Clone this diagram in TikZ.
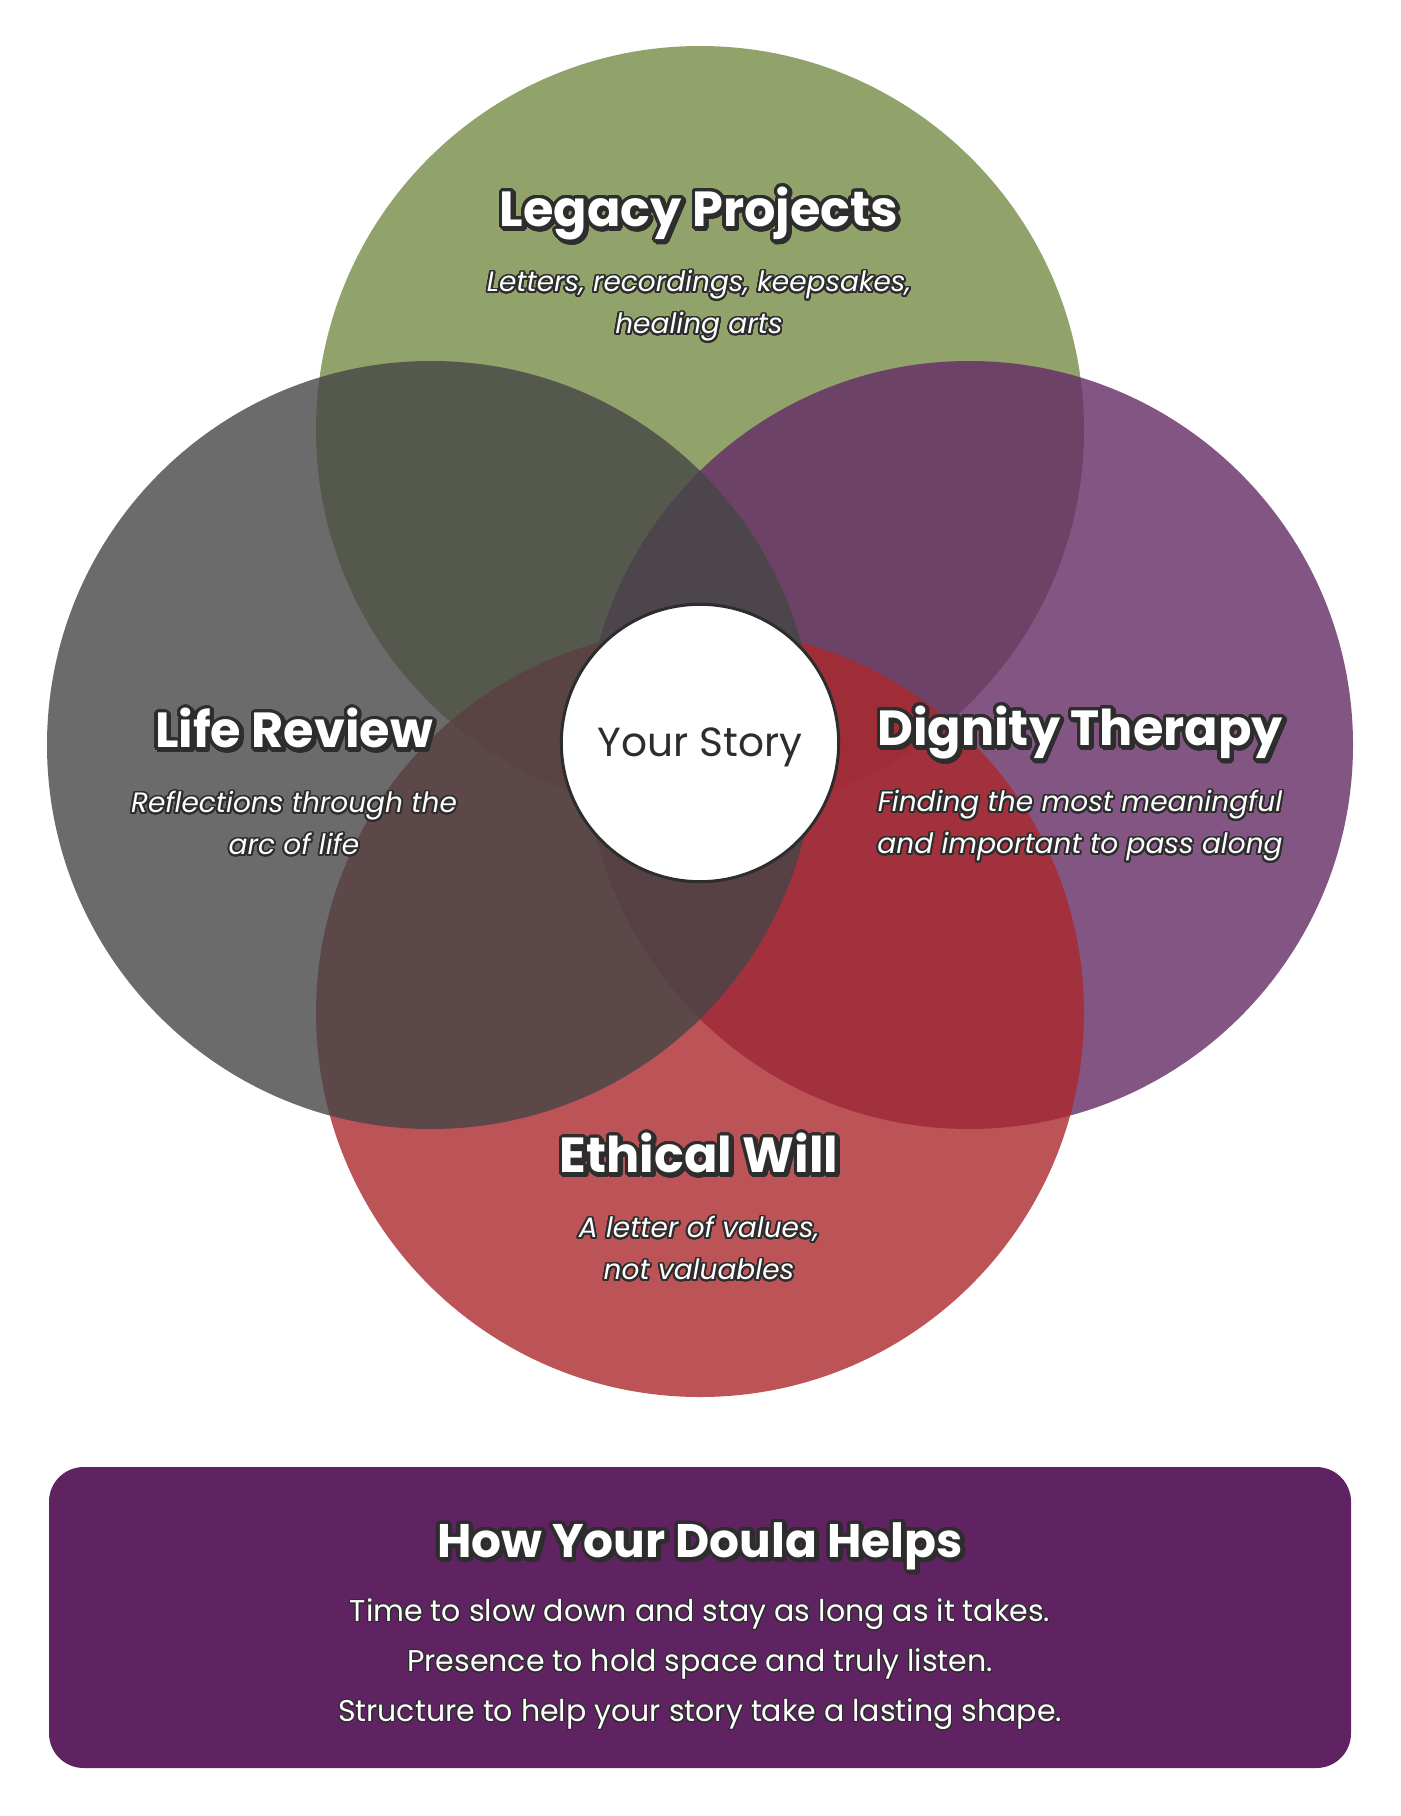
\documentclass[tikz,border=0pt]{standalone}
\usepackage{fontspec}
\setmainfont{Poppins}
\usepackage[copies]{contour}
\contournumber{32}
\definecolor{cgreen}{RGB}{118,139,69}
\definecolor{cpurple}{RGB}{99,43,101}
\definecolor{cred}{RGB}{172,40,44}
\definecolor{cgray}{RGB}{70,70,70}
\definecolor{boxpurple}{RGB}{94,35,96}
\definecolor{dk}{RGB}{45,45,45}
\newcommand\headtxt[1]{\vphantom{Ajgy}\contourlength{2.4pt}\rlap{\kern1.2pt\raisebox{-1.2pt}{\color{dk}\contour{dk}{#1}}}\contour{dk}{#1}}
\newcommand\subtxt[1]{\vphantom{Ajgy}\contourlength{1.4pt}\contour{dk}{#1}}
\newcommand\bodytxt[1]{\contourlength{0.7pt}\contour{dk}{#1}}
\tikzset{
  venn/.style={opacity=0.8},
  headnode/.style={text=white, font=\fontsize{37}{40}\selectfont\bfseries, inner sep=0pt},
  subnode/.style={text=white, font=\fontsize{21}{31.5}\selectfont\itshape, align=center, inner sep=0pt},
  bodynode/.style={text=white, font=\fontsize{22.5}{37.5}\selectfont, align=center, inner sep=0pt},
}
\begin{document}
\begin{tikzpicture}[x=0.75pt,y=-0.75pt]
\useasboundingbox (0,0) rectangle (1400,1816);
\fill[white] (0,0) rectangle (1400,1816);
% Venn circles
\fill[cgreen, venn] (700,430) circle[radius=288pt];
\fill[cpurple, venn] (969,745) circle[radius=288pt];
\fill[cred, venn] (700,1013) circle[radius=288pt];
\fill[cgray, venn] (431,745) circle[radius=288pt];
% centre
\node (story) [circle, fill=white, draw=dk, line width=2.25pt, minimum size=208pt, inner sep=0pt,
  text=dk, font=\fontsize{30.5}{33}\selectfont] at (700,743) {\raisebox{-10pt}[0pt][0pt]{Your Story}};
% labels
\node (legacyh) [headnode] at (699,216) {\headtxt{Legacy Projects}};
\node (legacys) [subnode] at (699,307) {\subtxt{Letters, recordings, keepsakes,}\\\subtxt{healing arts}};
\node (lifeh) [headnode] at (294,735) {\headtxt{Life Review}};
\node (lifes) [subnode] at (294,827) {\subtxt{Reflections through the}\\\subtxt{arc of life}};
\node (dignh) [headnode] at (1080,735) {\headtxt{Dignity Therapy}};
\node (digns) [subnode] at (1080,827) {\subtxt{Finding the most meaningful}\\\subtxt{and important to pass along}};
\node (ethh) [headnode] at (699,1160) {\headtxt{Ethical Will}};
\node (eths) [subnode] at (699,1252) {\subtxt{A letter of values,}\\\subtxt{not valuables}};
% bottom box
\node (helpbox) [rounded corners=26pt, fill=boxpurple, minimum width=976.5pt, minimum height=225.75pt, inner sep=0pt] at (700,1617.5) {};
\node (helph) [headnode, font=\fontsize{35.3}{38}\selectfont\bfseries] at (700,1547) {\headtxt{How Your Doula Helps}};
\node (helpb) [bodynode] at (700,1665) {\bodytxt{Time to slow down and stay as long as it takes.}\\\bodytxt{Presence to hold space and truly listen.}\\\bodytxt{Structure to help your story take a lasting shape.}};
\end{tikzpicture}
\end{document}
